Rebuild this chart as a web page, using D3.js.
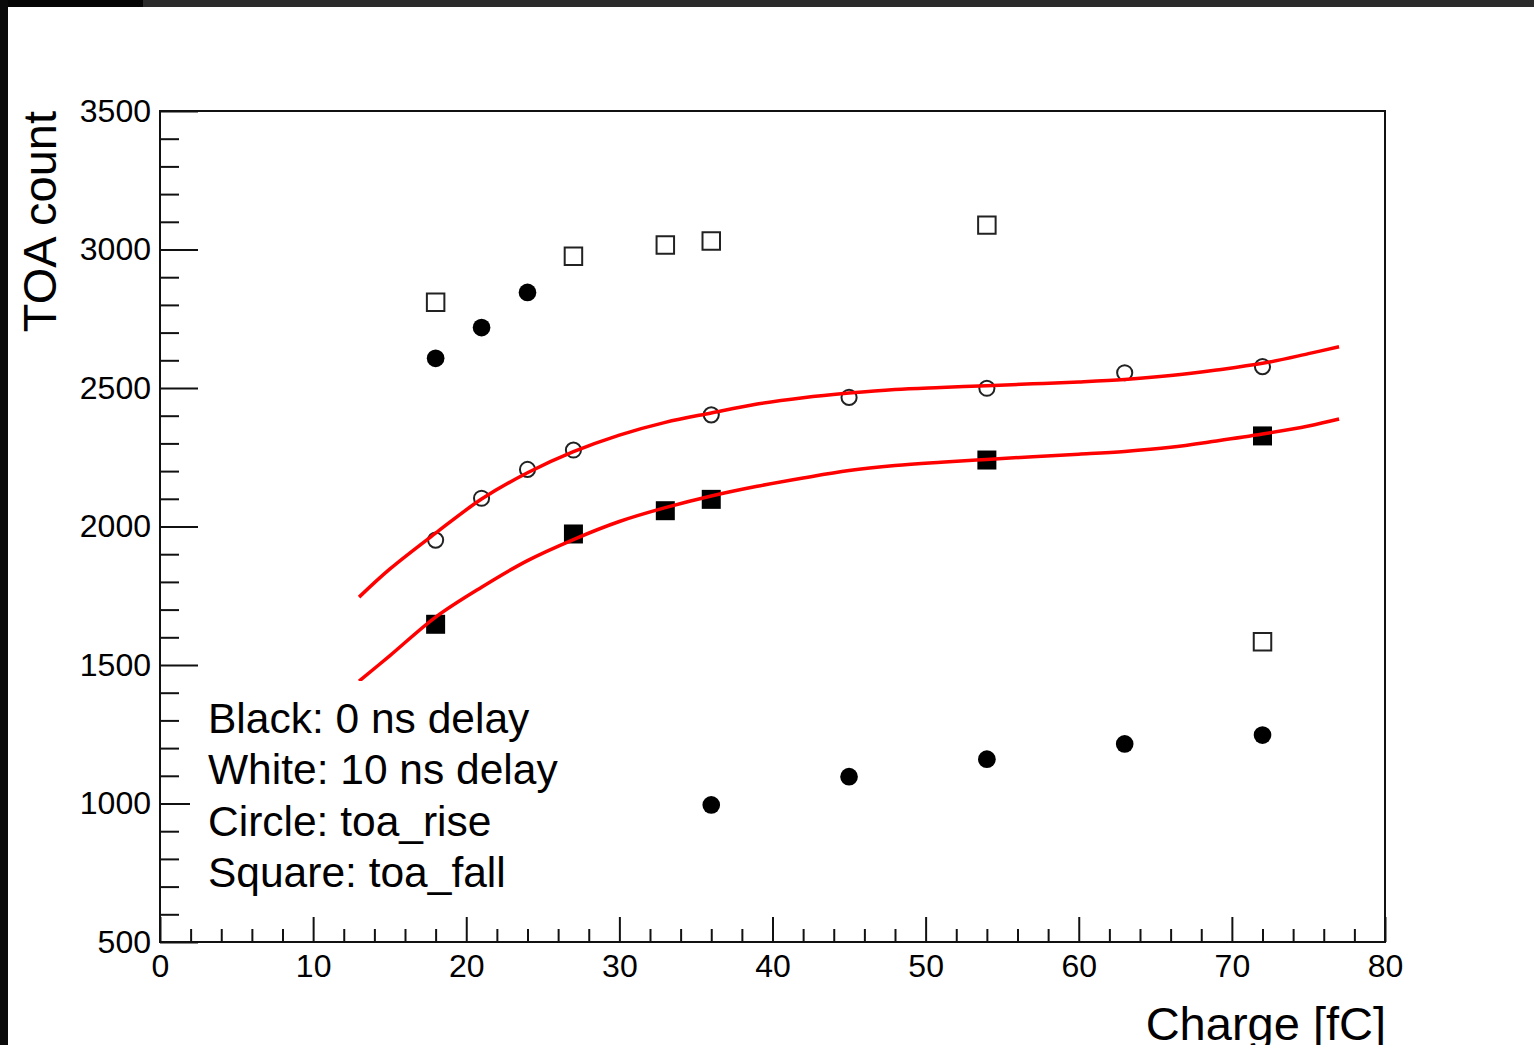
<!DOCTYPE html>
<html>
<head>
<meta charset="utf-8">
<script src="https://d3js.org/d3.v7.min.js"></script>
<style>
  html, body { margin: 0; padding: 0; background: #fff; }
  svg { display: block; }
  text { font-family: "Liberation Sans", Arial, Helvetica, sans-serif; fill: #000; }
</style>
</head>
<body>
<script>
// toa_rise: circles, toa_fall: squares. Black = 0 ns delay, white = 10 ns delay
const riseCharge0 = [18, 21, 24, 36, 45, 54, 63, 72];
const riseToa0 = [2607, 2718, 2845, 995, 1097, 1160, 1215, 1247];

const riseCharge10 = [18, 21, 24, 27, 36, 45, 54, 63, 72];
const riseToa10 = [1951, 2102, 2206, 2276, 2403, 2466, 2499, 2555, 2577];

const fallCharge0 = [18, 27, 33, 36, 54, 72];
const fallToa0 = [1647, 1973, 2057, 2098, 2240, 2327];

const fallCharge10 = [18, 27, 33, 36, 54, 72];
const fallToa10 = [2810, 2976, 3016, 3031, 3088, 1584];

// fit curves, sampled along the charge range
const fitCharge = [13, 15, 18, 21, 24, 27, 30, 33, 36, 39, 42, 45, 48, 51, 54, 57, 60, 63, 66, 69, 72, 75, 77];
const fitRise10 = [1745, 1846, 1976, 2099, 2194, 2270, 2330, 2376, 2410, 2442, 2465, 2482, 2495, 2502, 2508, 2515, 2522, 2531, 2545, 2565, 2589, 2624, 2649];
const fitFall0 = [1442, 1533, 1673, 1781, 1877, 1953, 2018, 2068, 2110, 2145, 2175, 2202, 2220, 2232, 2242, 2252, 2261, 2271, 2286, 2309, 2334, 2363, 2388];

const xMajor = [0, 10, 20, 30, 40, 50, 60, 70, 80];
const yMajor = [500, 1000, 1500, 2000, 2500, 3000, 3500];

const legendLines = [
  'Black: 0 ns delay',
  'White: 10 ns delay',
  'Circle: toa_rise',
  'Square: toa_fall'
];

const width = 1534, height = 1045;
const frame = {left: 160, right: 1385, top: 111, bottom: 942};

const svg = d3.select('body').append('svg')
    .attr('width', width)
    .attr('height', height);

svg.append('rect')
    .attr('width', width)
    .attr('height', height)
    .attr('fill', '#fff');

// dark edges of the screen grab
svg.append('rect').attr('x', 0).attr('y', 0).attr('width', width).attr('height', 7).attr('fill', '#2b2b2b');
svg.append('rect').attr('x', 0).attr('y', 0).attr('width', 143).attr('height', 7).attr('fill', '#050505');
svg.append('rect').attr('x', 0).attr('y', 0).attr('width', 8).attr('height', height).attr('fill', '#0a0a0a');

const x = d3.scaleLinear().domain([0, 80]).range([frame.left, frame.right]);
const y = d3.scaleLinear().domain([500, 3500]).range([frame.bottom, frame.top]);

const xMinor = d3.range(0, 81, 2).filter(v => v % 10 !== 0);
const yMinor = d3.range(500, 3501, 100).filter(v => v % 500 !== 0);

function styleAxis(g) {
  g.select('.domain').remove();
  g.selectAll('line').attr('stroke', '#111').attr('stroke-width', 2);
  g.selectAll('text').attr('font-size', 32).attr('fill', '#111')
      .attr('font-family', '"Liberation Sans", Arial, sans-serif');
}

// x axis, ticks pointing into the frame
svg.append('g')
    .attr('transform', `translate(0,${frame.bottom})`)
    .call(d3.axisBottom(x).tickValues(xMinor).tickSize(-13).tickFormat(''))
    .call(styleAxis);
svg.append('g')
    .attr('transform', `translate(0,${frame.bottom})`)
    .call(d3.axisBottom(x).tickValues(xMajor).tickSize(-25).tickPadding(12).tickFormat(d3.format('d')))
    .call(styleAxis);

// y axis
svg.append('g')
    .attr('transform', `translate(${frame.left},0)`)
    .call(d3.axisLeft(y).tickValues(yMinor).tickSize(-19).tickFormat(''))
    .call(styleAxis);
svg.append('g')
    .attr('transform', `translate(${frame.left},0)`)
    .call(d3.axisLeft(y).tickValues(yMajor).tickSize(-38).tickPadding(9).tickFormat(d3.format('d')))
    .call(styleAxis);

svg.append('rect')
    .attr('x', frame.left)
    .attr('y', frame.top)
    .attr('width', frame.right - frame.left)
    .attr('height', frame.bottom - frame.top)
    .attr('fill', 'none')
    .attr('stroke', '#111')
    .attr('stroke-width', 2);

// markers
const zip = (xs, ys) => xs.map((v, i) => [v, ys[i]]);

const series = [
  {pts: zip(riseCharge0, riseToa0), type: d3.symbolCircle, size: 245, fill: '#000', stroke: 'none'},
  {pts: zip(riseCharge10, riseToa10), type: d3.symbolCircle, size: 180, fill: 'none', stroke: '#222'},
  {pts: zip(fallCharge0, fallToa0), type: d3.symbolSquare, size: 361, fill: '#000', stroke: 'none'},
  {pts: zip(fallCharge10, fallToa10), type: d3.symbolSquare, size: 306, fill: 'none', stroke: '#222'}
];

series.forEach(s => {
  svg.append('g').selectAll('path')
      .data(s.pts)
    .enter().append('path')
      .attr('transform', d => `translate(${x(d[0])},${y(d[1])})`)
      .attr('d', d3.symbol().type(s.type).size(s.size))
      .attr('fill', s.fill)
      .attr('stroke', s.stroke)
      .attr('stroke-width', 2);
});

// fit curves on top of the points
const line = d3.line()
    .x(d => x(d[0]))
    .y(d => y(d[1]))
    .curve(d3.curveCatmullRom.alpha(0.5));

[fitRise10, fitFall0].forEach(vals => {
  svg.append('path')
      .attr('d', line(zip(fitCharge, vals)))
      .attr('fill', 'none')
      .attr('stroke', '#ff0000')
      .attr('stroke-width', 3.5);
});

// text box (white fill, hides what lies below it)
const legend = svg.append('g');
legend.append('rect')
    .attr('x', 190)
    .attr('y', 681)
    .attr('width', 410)
    .attr('height', 224)
    .attr('fill', '#fff');

legend.selectAll('text')
    .data(legendLines)
  .enter().append('text')
    .attr('x', 208)
    .attr('y', (d, i) => 733 + i * 51.3)
    .attr('font-size', 42.5)
    .text(d => d);

// axis titles
svg.append('text')
    .attr('x', frame.right + 1)
    .attr('y', 1040)
    .attr('text-anchor', 'end')
    .attr('font-size', 47)
    .text('Charge [fC]');

svg.append('text')
    .attr('transform', `translate(56,${frame.top}) rotate(-90)`)
    .attr('text-anchor', 'end')
    .attr('font-size', 47)
    .text('TOA count');
</script>
</body>
</html>
